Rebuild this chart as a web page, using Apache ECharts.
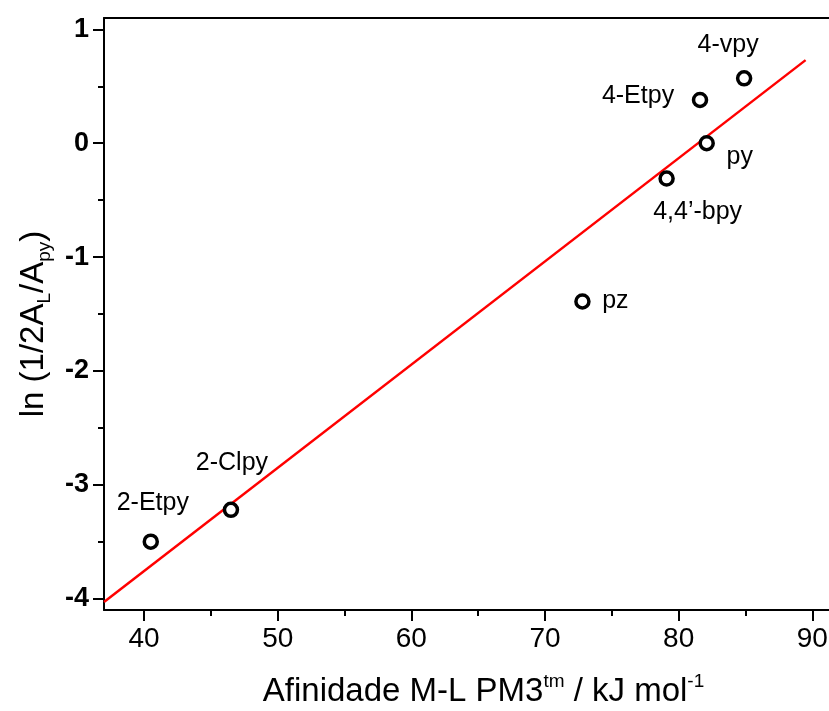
<!DOCTYPE html>
<html>
<head>
<meta charset="utf-8">
<script src="https://cdn.jsdelivr.net/npm/echarts@6/dist/echarts.min.js"></script>
<style>
	html, body { margin: 0; padding: 0; background: #fff; }
	#chart { width: 829px; height: 711px; }
</style>
</head>
<body>
<div id="chart"></div>
<script>
// Ligands and their values
const ligands = [ '2-Etpy', '2-Clpy', 'pz', '4,4’-bpy', 'py', '4-Etpy', '4-vpy' ];
const affinity = [ 40.5, 46.5, 72.8, 79.1, 82.1, 81.6, 84.9 ];
const lnRatio = [ -3.5, -3.22, -1.39, -0.31, 0.0, 0.38, 0.57 ];

// Fitted line end points
const fitX = [ 37, 89.5 ];
const fitY = [ -4.03, 0.73 ];

// Tick values
const xMajorTicks = [ 40, 50, 60, 70, 80, 90 ];
const xMinorTicks = [ 45, 55, 65, 75, 85 ];
const yMajorTicks = [ -4, -3, -2, -1, 0, 1 ];
const yMinorTicks = [ -3.5, -2.5, -1.5, -0.5, 0.5 ];

// Label offsets (px) relative to each point, same order as ligands
const labelOffsets = [ [ 2, -39 ], [ 1, -47 ], [ 33, 0 ], [ 31, 34 ], [ 33, 14 ], [ -62, -4 ], [ -16, -33 ] ];

const font = 'Liberation Sans, Arial, sans-serif';
const black = '#000';

const chart = echarts.init( document.getElementById( 'chart' ) );

const lineStyle = { color: black, width: 2 };

const option = {
	animation: false,
	backgroundColor: '#fff',
	textStyle: { fontFamily: font },
	grid: { left: 104, top: 18, width: 735, height: 592, outerBoundsMode: 'none', containLabel: false },
	xAxis: [
		{
			type: 'value',
			min: 37,
			max: 92,
			position: 'bottom',
			axisLine: { show: true, onZero: false, lineStyle: lineStyle },
			axisTick: { show: true, customValues: xMajorTicks, length: 11, lineStyle: lineStyle },
			axisLabel: { customValues: xMajorTicks, margin: 15, fontSize: 28, color: black, fontFamily: font },
			splitLine: { show: false },
			name: '{n|Afinidade M-L PM3}{p|tm}{n| / kJ mol}{p|-1}',
			nameLocation: 'middle',
			nameGap: 62,
			nameTextStyle: {
				padding: [ 0, 0, 0, 24 ],
				rich: {
					n: { fontSize: 33, fontFamily: font, color: black, lineHeight: 40, verticalAlign: 'middle' },
					p: { fontSize: 19, fontFamily: font, color: black, lineHeight: 19, verticalAlign: 'top' }
				}
			}
		},
		{
			type: 'value',
			min: 37,
			max: 92,
			position: 'bottom',
			axisLine: { show: false, onZero: false },
			axisTick: { show: true, customValues: xMinorTicks, length: 6, lineStyle: lineStyle },
			axisLabel: { show: false },
			splitLine: { show: false }
		},
		{
			type: 'value',
			min: 37,
			max: 92,
			position: 'top',
			axisLine: { show: true, onZero: false, lineStyle: lineStyle },
			axisTick: { show: false },
			axisLabel: { show: false },
			splitLine: { show: false }
		}
	],
	yAxis: [
		{
			type: 'value',
			min: -4.1,
			max: 1.1,
			position: 'left',
			axisLine: { show: true, onZero: false, lineStyle: lineStyle },
			axisTick: { show: true, customValues: yMajorTicks, length: 11, lineStyle: lineStyle },
			axisLabel: { customValues: yMajorTicks, margin: 15, fontSize: 27, fontWeight: 'bold', color: black, fontFamily: font },
			splitLine: { show: false },
			name: '{n|ln (1/2A}{s|L}{n|/A}{s|py}{n|)}',
			nameLocation: 'middle',
			nameGap: 49,
			nameTextStyle: {
				padding: [ 0, 20, 0, 0 ],
				rich: {
					n: { fontSize: 33, fontFamily: font, color: black, lineHeight: 40, verticalAlign: 'middle' },
					s: { fontSize: 19, fontFamily: font, color: black, lineHeight: 19, verticalAlign: 'bottom' }
				}
			}
		},
		{
			type: 'value',
			min: -4.1,
			max: 1.1,
			position: 'left',
			axisLine: { show: false, onZero: false },
			axisTick: { show: true, customValues: yMinorTicks, length: 6, lineStyle: lineStyle },
			axisLabel: { show: false },
			splitLine: { show: false }
		}
	],
	series: [
		{
			type: 'line',
			data: fitX.map( ( x, i ) => [ x, fitY[ i ] ] ),
			symbol: 'none',
			lineStyle: { color: '#ff0000', width: 2.5 },
			z: 2
		},
		{
			type: 'scatter',
			data: ligands.map( ( name, i ) => ( {
				name: name,
				value: [ affinity[ i ], lnRatio[ i ] ],
				label: { offset: labelOffsets[ i ] }
			} ) ),
			symbol: 'circle',
			symbolSize: 13,
			itemStyle: { color: '#fff', borderColor: black, borderWidth: 3.5, opacity: 1 },
			label: {
				show: true,
				position: 'inside',
				formatter: '{b}',
				fontSize: 25,
				fontFamily: font,
				color: black,
				textBorderWidth: 0,
				align: 'center',
				verticalAlign: 'middle'
			},
			emphasis: { disabled: true },
			z: 3
		}
	]
};

chart.setOption( option );
</script>
</body>
</html>
